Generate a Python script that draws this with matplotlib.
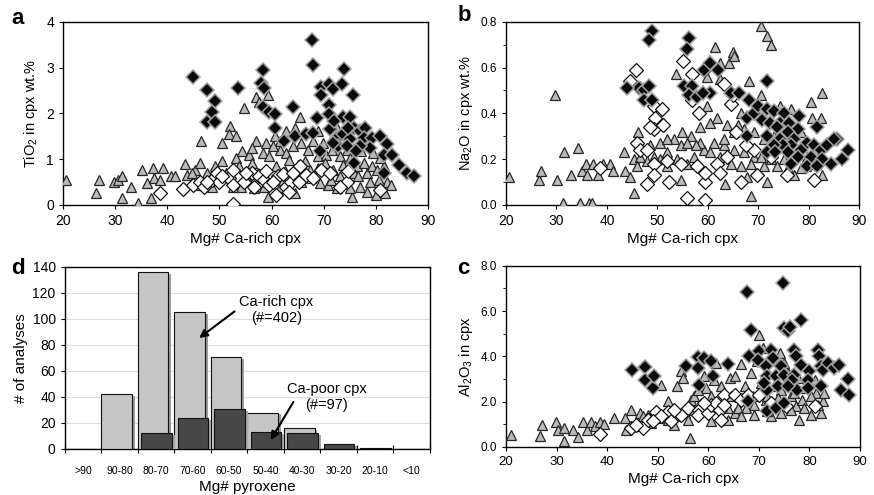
import matplotlib
matplotlib.use("Agg")
import matplotlib.pyplot as plt
import numpy as np

plt.rcParams['font.family'] = ['Liberation Sans', 'DejaVu Sans']
plt.rcParams['mathtext.fontset'] = 'custom'
plt.rcParams['mathtext.rm'] = 'Liberation Sans'
plt.rcParams['mathtext.it'] = 'Liberation Sans'

# ---------------- Panel a: TiO2 ----------------
a_tri_x = [20.5, 26.3, 27.0, 29.7, 30.5, 31.3, 31.3, 33.0, 34.4, 35.2, 36.1, 36.9, 37.2, 37.4, 38.6, 39.2, 40.8, 41.5,
           43.4, 43.7, 45.4, 46.3, 46.5, 50.5, 50.5, 52.0, 51.8, 53.1, 54.7, 57.0, 57.6, 59.2, 57.0, 58.9, 62.8, 64.4,
           65.4, 60.6, 54.4, 55.7, 53.1, 49.2, 47.6, 44.7, 53.7, 56.3, 58.3, 59.5, 61.5, 62.8, 64.1, 65.7, 67.0, 67.9,
           68.9, 69.9, 70.5, 71.5, 73.1, 74.4, 75.0, 76.3, 77.6, 78.3, 79.2, 80.2, 81.5, 82.1, 82.8, 81.8, 79.9, 78.3,
           77.0, 75.3, 75.0, 72.5, 70.8, 69.2, 67.6, 65.7, 64.4, 62.8, 61.5, 59.2, 58.6, 56.7, 54.1, 55.4, 57.3, 60.8,
           62.5, 63.4, 65.0, 66.3, 67.3, 68.9, 70.2, 71.8, 73.7, 75.7, 76.6, 78.9, 80.5, 73.1, 71.3, 65.4, 62.1, 56.3,
           61.5, 60.2, 48.6, 46.0, 52.5, 51.2, 68.9, 72.4, 77.2, 79.5, 80.8]
a_tri_y = [0.55, 0.26, 0.55, 0.49, 0.55, 0.64, 0.15, 0.40, 0.05, 0.76, 0.48, 0.15, 0.81, 0.59, 0.55, 0.81, 0.64, 0.63,
           0.90, 0.66, 0.77, 0.92, 1.40, 1.35, 0.96, 1.73, 1.54, 1.51, 2.11, 2.35, 2.24, 2.39, 1.40, 1.36, 1.62, 1.69,
           1.91, 1.51, 1.18, 1.10, 1.03, 0.85, 0.70, 0.70, 0.85, 0.92, 1.14, 1.07, 1.21, 1.14, 1.29, 1.36, 1.21, 1.40,
           1.07, 1.36, 1.10, 1.21, 1.07, 1.21, 1.03, 0.85, 0.92, 0.70, 0.85, 0.77, 0.85, 0.51, 0.44, 0.26, 0.22, 0.29,
           0.40, 0.18, 0.37, 0.37, 0.44, 0.48, 0.59, 0.51, 0.26, 0.37, 0.40, 0.18, 0.40, 0.37, 0.40, 0.55, 0.70, 0.85,
           0.74, 0.99, 0.88, 0.96, 0.77, 0.81, 0.92, 0.77, 0.88, 0.70, 0.63, 0.51, 0.55, 0.63, 0.55, 0.63, 0.55, 1.25,
           1.40, 1.29, 0.40, 0.44, 0.40, 0.70, 1.62, 1.73, 1.18, 1.14, 1.03]
a_blk_x = [44.9, 47.6, 49.2, 48.5, 47.6, 49.2, 53.6, 58.3, 58.0, 58.6, 58.3, 59.5, 60.7, 60.7, 62.3, 64.1, 64.4, 66.5,
           67.8, 67.9, 68.6, 67.9, 69.4, 69.4, 71.0, 71.8, 71.0, 71.0, 71.2, 73.4, 73.9, 75.5, 73.7, 75.0, 72.0, 72.6,
           73.7, 75.0, 75.7, 76.9, 77.9, 77.6, 79.2, 80.7, 78.9, 76.9, 82.1, 81.5, 83.1, 84.4, 86.0, 87.3, 81.5, 75.7,
           72.8, 74.4, 76.1, 69.2, 71.8, 74.7]
a_blk_y = [2.79, 2.52, 2.28, 2.04, 1.82, 1.82, 2.55, 2.95, 2.67, 2.55, 2.13, 2.02, 1.98, 1.67, 1.40, 2.13, 1.51, 1.54,
           3.60, 3.05, 1.89, 1.57, 2.57, 2.39, 2.65, 2.54, 2.18, 1.99, 1.65, 2.65, 2.96, 2.40, 1.91, 1.91, 1.84, 1.47,
           1.54, 1.43, 1.69, 1.62, 1.69, 1.47, 1.47, 1.51, 1.25, 1.29, 1.32, 1.08, 1.08, 0.88, 0.70, 0.64, 0.70, 0.92,
           1.29, 1.29, 1.18, 1.18, 1.36, 1.69]
a_wht_x = [38.6, 43.1, 44.9, 46.3, 47.1, 48.6, 49.5, 49.9, 51.8, 52.5, 52.6, 54.7, 56.3, 57.6, 58.6, 59.5, 60.8, 61.2,
           62.1, 62.8, 63.7, 65.2, 63.4, 66.6, 67.9, 69.5, 71.1, 74.4, 74.7, 80.7, 73.1, 52.5, 55.1, 56.7, 58.9, 60.2,
           64.0, 47.6, 50.5, 65.4]
a_wht_y = [0.27, 0.35, 0.44, 0.51, 0.40, 0.55, 0.70, 0.49, 0.59, 0.44, 0.02, 0.51, 0.70, 0.63, 0.55, 0.44, 0.22, 0.63,
           0.68, 0.40, 0.51, 0.49, 0.29, 0.66, 0.59, 0.77, 0.70, 0.51, 0.74, 0.33, 0.40, 0.77, 0.70, 0.40, 0.74, 0.51,
           0.70, 0.51, 0.63, 0.85]

# ---------------- Panel b: Na2O ----------------
b_tri_x = [20.6, 26.6, 26.9, 29.7, 30.2, 31.3, 31.4, 32.8, 34.2, 34.7, 35.0, 35.9, 36.0, 36.4, 37.0, 37.2, 38.2, 39.3,
           40.7, 41.3, 43.3, 43.6, 44.6, 45.3, 46.1, 46.6, 48.0, 45.3, 50.6, 51.9, 53.6, 53.2, 54.6, 54.9, 54.6, 56.6,
           58.5, 60.5, 59.9, 59.9, 61.5, 62.5, 62.5, 64.2, 64.9, 65.2, 61.9, 63.9, 65.9, 66.6, 68.2, 70.5, 70.5, 71.7,
           72.5, 71.8, 68.5, 63.5, 74.1, 74.4, 76.4, 80.4, 82.7, 82.4, 80.7, 82.7, 77.1, 79.4, 75.8, 73.8, 71.2, 69.1,
           67.2, 65.2, 63.2, 61.2, 59.2, 57.2, 55.9, 53.9, 51.9, 50.6, 49.3, 46.6, 46.0, 58.5, 60.5, 62.5, 64.5, 66.5,
           68.5, 70.5, 72.5, 75.1, 77.7, 79.7, 81.4, 81.1, 73.1, 75.8, 78.4, 71.2, 69.1, 67.2, 65.2, 63.2, 55.9, 57.6,
           51.9, 48.6, 78.4, 67.8]
b_tri_y = [0.12, 0.11, 0.15, 0.48, 0.11, 0.01, 0.23, 0.13, 0.25, 0.01, 0.15, 0.18, 0.13, 0.01, 0.01, 0.18, 0.13, 0.18,
           0.18, 0.15, 0.23, 0.15, 0.12, 0.05, 0.32, 0.52, 0.19, 0.20, 0.27, 0.23, 0.57, 0.29, 0.26, 0.32, 0.11, 0.30,
           0.34, 0.36, 0.43, 0.56, 0.69, 0.55, 0.62, 0.62, 0.67, 0.65, 0.38, 0.35, 0.35, 0.40, 0.54, 0.48, 0.78, 0.74,
           0.70, 0.10, 0.04, 0.09, 0.34, 0.43, 0.42, 0.45, 0.49, 0.38, 0.38, 0.13, 0.13, 0.17, 0.16, 0.17, 0.17, 0.21,
           0.23, 0.24, 0.26, 0.27, 0.24, 0.21, 0.18, 0.20, 0.17, 0.20, 0.21, 0.21, 0.17, 0.27, 0.23, 0.21, 0.18, 0.17,
           0.18, 0.21, 0.20, 0.20, 0.23, 0.21, 0.18, 0.23, 0.30, 0.29, 0.32, 0.29, 0.32, 0.33, 0.32, 0.29, 0.27, 0.26,
           0.29, 0.26, 0.16, 0.12]
b_blk_x = [48.9, 48.3, 56.2, 55.9, 46.3, 47.3, 48.3, 47.3, 48.9, 44.0, 55.2, 56.9, 56.2, 57.9, 59.2, 60.5, 62.0, 60.5,
           59.1, 64.5, 66.2, 68.1, 71.8, 67.8, 69.1, 69.9, 71.8, 73.1, 75.1, 78.1, 70.8, 72.4, 74.4, 76.1, 73.7, 77.8,
           81.7, 75.8, 71.8, 67.8, 74.4, 77.0, 79.7, 78.4, 81.0, 76.4, 75.0, 73.1, 71.8, 75.8, 77.8, 80.5, 82.4, 83.7,
           85.7, 85.0, 87.7, 86.7, 84.4, 82.7, 79.7, 76.4, 81.7, 73.4]
b_blk_y = [0.76, 0.72, 0.73, 0.68, 0.51, 0.50, 0.52, 0.46, 0.46, 0.51, 0.52, 0.52, 0.48, 0.47, 0.59, 0.62, 0.59, 0.49,
           0.49, 0.49, 0.49, 0.46, 0.54, 0.38, 0.40, 0.43, 0.42, 0.41, 0.40, 0.39, 0.37, 0.36, 0.36, 0.36, 0.34, 0.33,
           0.34, 0.32, 0.30, 0.30, 0.29, 0.29, 0.27, 0.24, 0.26, 0.26, 0.26, 0.26, 0.23, 0.23, 0.21, 0.21, 0.24, 0.26,
           0.29, 0.29, 0.24, 0.20, 0.18, 0.20, 0.17, 0.18, 0.17, 0.23]
b_wht_x = [45.8, 44.6, 55.1, 56.9, 59.2, 56.9, 58.2, 49.3, 50.9, 49.6, 49.3, 48.6, 51.1, 46.0, 46.6, 48.0, 49.3, 49.3,
           48.0, 52.3, 55.9, 59.5, 59.5, 59.5, 57.9, 54.6, 51.9, 61.9, 62.5, 63.8, 63.2, 64.5, 64.9, 66.5, 69.8, 75.6,
           81.1, 72.5, 69.1, 38.7, 65.5, 67.5]
b_wht_y = [0.59, 0.54, 0.63, 0.57, 0.59, 0.46, 0.40, 0.43, 0.42, 0.38, 0.33, 0.34, 0.35, 0.27, 0.24, 0.24, 0.18, 0.13,
           0.09, 0.10, 0.03, 0.02, 0.10, 0.14, 0.17, 0.18, 0.19, 0.18, 0.14, 0.21, 0.53, 0.44, 0.48, 0.10, 0.13, 0.13,
           0.11, 0.21, 0.24, 0.16, 0.32, 0.26]

# ---------------- Panel c: Al2O3 ----------------
c_tri_x = [21.0, 26.8, 27.1, 29.9, 30.3, 31.5, 31.5, 33.2, 34.3, 35.2, 36.0, 36.8, 37.5, 38.5, 39.4, 41.4, 43.5, 43.7,
           44.7, 46.4, 48.0, 50.7, 52.0, 53.3, 53.9, 54.5, 54.9, 56.3, 56.5, 57.2, 59.2, 59.6, 60.5, 61.5, 62.5, 64.2,
           64.5, 65.2, 66.5, 68.5, 69.6, 70.1, 70.8, 71.7, 72.4, 74.1, 75.0, 74.4, 78.0, 77.3, 80.3, 81.3, 82.3, 82.6,
           82.9, 80.3, 78.6, 76.4, 73.7, 71.4, 69.1, 67.5, 65.8, 63.8, 61.9, 60.5, 58.6, 57.2, 55.3, 53.3, 52.0, 50.0,
           48.7, 47.0, 45.4, 55.9, 63.8, 66.5, 69.1, 71.7, 74.4, 76.4, 79.0, 75.7, 73.0, 70.4, 79.0, 81.0, 71.7, 81.6,
           77.0, 67.2, 68.8, 61.2, 57.9, 77.7, 73.0, 65.2]
c_tri_y = [0.54, 0.47, 0.99, 1.09, 0.76, 0.25, 0.84, 0.74, 0.44, 1.09, 0.76, 1.09, 0.91, 1.09, 1.03, 1.28, 1.28, 0.76,
           1.65, 1.50, 1.43, 2.75, 2.01, 0.99, 2.68, 3.34, 3.04, 0.40, 2.09, 2.24, 3.12, 2.60, 1.13, 3.71, 2.68, 3.04,
           2.24, 1.50, 3.68, 3.27, 3.78, 4.96, 4.37, 3.34, 1.35, 4.15, 3.71, 2.53, 1.21, 1.79, 1.43, 2.38, 1.50, 2.01,
           2.38, 2.24, 2.09, 2.24, 2.16, 2.09, 1.87, 1.72, 1.72, 1.72, 1.94, 2.24, 1.94, 1.65, 1.50, 1.35, 1.21, 1.28,
           1.06, 1.35, 0.91, 1.21, 1.21, 1.35, 1.43, 1.57, 1.50, 1.65, 1.72, 3.27, 2.68, 2.82, 2.60, 2.97, 2.24, 1.87,
           2.38, 2.68, 2.24, 2.97, 2.53, 3.04, 3.85, 3.12]
c_blk_x = [45.0, 47.4, 47.5, 49.0, 49.3, 55.6, 57.9, 57.9, 58.2, 59.2, 60.5, 60.9, 63.8, 67.7, 68.5, 68.0, 67.8, 70.1,
           69.8, 71.4, 71.7, 71.7, 71.7, 72.4, 72.7, 73.4, 73.7, 73.4, 74.7, 74.9, 75.7, 76.2, 74.4, 74.9, 75.0, 77.0,
           77.3, 77.0, 77.5, 78.3, 78.3, 80.0, 79.7, 81.6, 81.9, 82.3, 82.3, 82.6, 83.6, 84.9, 85.9, 86.2, 87.6, 87.9,
           79.7, 76.5, 71.1, 75.7]
c_blk_y = [3.38, 3.51, 2.97, 2.60, 3.12, 3.56, 3.97, 3.49, 2.72, 3.93, 3.78, 3.15, 3.66, 6.84, 5.15, 4.03, 2.01, 4.22,
           3.82, 3.56, 3.12, 2.53, 1.57, 4.29, 3.93, 3.12, 2.68, 1.72, 7.24, 5.25, 5.10, 5.29, 3.59, 3.19, 1.94, 4.29,
           4.00, 3.19, 2.53, 5.62, 3.63, 3.34, 2.97, 4.29, 4.00, 3.56, 2.68, 3.41, 3.71, 3.49, 3.63, 2.53, 3.00, 2.31,
           2.60, 2.97, 2.82, 2.68]
c_wht_x = [38.5, 44.7, 47.0, 48.0, 49.7, 52.0, 52.6, 54.6, 55.9, 58.2, 57.9, 60.0, 60.5, 61.5, 62.4, 62.5, 63.2, 65.2,
           63.2, 66.5, 67.8, 70.1, 72.4, 75.4, 81.0, 53.3, 50.7, 45.7, 49.0, 59.2]
c_wht_y = [0.59, 0.84, 0.84, 1.21, 1.54, 1.54, 1.13, 1.43, 1.72, 1.65, 1.43, 1.50, 1.87, 1.94, 1.65, 1.21, 2.31, 2.31,
           1.87, 2.09, 2.31, 2.31, 1.94, 1.79, 1.79, 1.65, 1.35, 0.99, 1.13, 1.94]

# ---------------- Panel d: histogram ----------------
d_categories = ['>90', '90-80', '80-70', '70-60', '60-50', '50-40', '40-30', '30-20', '20-10', '<10']
d_ca_rich = [0, 42, 136, 105, 71, 28, 16, 0, 0, 0]
d_ca_poor = [0, 0, 12, 24, 31, 13, 12, 4, 1, 0]

TRI = dict(marker='^', linestyle='none', markersize=7.6, markerfacecolor='#bababa',
           markeredgecolor='#262626', markeredgewidth=0.9)
BLK = dict(marker='D', linestyle='none', markersize=7.4, markerfacecolor='#0a0a0a',
           markeredgecolor='#a0a0a0', markeredgewidth=1.1)
WHT = dict(marker='D', linestyle='none', markersize=7.2, markerfacecolor='white',
           markeredgecolor='#111111', markeredgewidth=0.9)

fig = plt.figure(figsize=(8.74, 4.95), dpi=100)

ax_a = fig.add_axes([0.072, 0.586, 0.418, 0.370])
ax_b = fig.add_axes([0.579, 0.586, 0.404, 0.370])
ax_d = fig.add_axes([0.074, 0.093, 0.418, 0.368])
ax_c = fig.add_axes([0.579, 0.097, 0.405, 0.366])


def scatter_panel(ax, tx, ty, wx, wy, bx, by):
    ax.plot(tx, ty, zorder=3, **TRI)
    ax.plot(wx, wy, zorder=4, **WHT)
    ax.plot(bx, by, zorder=5, **BLK)
    ax.set_xlim(20, 90)
    ax.set_xticks(range(20, 91, 10))
    for s in ax.spines.values():
        s.set_linewidth(1.0)
    ax.tick_params(direction='out', length=3, width=0.8)
    ax.tick_params(which='minor', direction='out', length=2, width=0.6)


scatter_panel(ax_a, a_tri_x, a_tri_y, a_wht_x, a_wht_y, a_blk_x, a_blk_y)
ax_a.set_ylim(0, 4)
ax_a.set_yticks([0, 1, 2, 3, 4])
ax_a.tick_params(labelsize=10)
ax_a.set_ylabel('TiO$_2$ in cpx wt.%', fontsize=10.5, labelpad=4)
ax_a.set_xlabel('Mg# Ca-rich cpx', fontsize=11, labelpad=3)

scatter_panel(ax_b, b_tri_x, b_tri_y, b_wht_x, b_wht_y, b_blk_x, b_blk_y)
ax_b.set_ylim(0, 0.8)
ax_b.set_yticks(np.arange(0, 0.81, 0.2))
ax_b.set_yticks(np.arange(0.1, 0.8, 0.2), minor=True)
ax_b.set_yticklabels(['0.0', '0.2', '0.4', '0.6', '0.8'])
ax_b.tick_params(axis='y', labelsize=8.5)
ax_b.tick_params(axis='x', labelsize=10)
ax_b.set_ylabel('Na$_2$O in cpx wt.%', fontsize=10.5, labelpad=4)
ax_b.set_xlabel('Mg# Ca-rich cpx', fontsize=11, labelpad=3)

scatter_panel(ax_c, c_tri_x, c_tri_y, c_wht_x, c_wht_y, c_blk_x, c_blk_y)
ax_c.set_ylim(0, 8)
ax_c.set_yticks([0, 2, 4, 6, 8])
ax_c.set_yticks([1, 3, 5, 7], minor=True)
ax_c.set_yticklabels(['0.0', '2.0', '4.0', '6.0', '8.0'])
ax_c.tick_params(axis='y', labelsize=8.5)
ax_c.tick_params(axis='x', labelsize=9.5)
ax_c.set_ylabel('Al$_2$O$_3$ in cpx', fontsize=10.5, labelpad=4)
ax_c.set_xlabel('Mg# Ca-rich cpx', fontsize=11, labelpad=3)

# histogram
idx = np.arange(len(d_categories))
w = 0.84
ax_d.bar(idx + 0.08, np.maximum(np.array(d_ca_rich) - 1.5, 0), width=w, align='edge',
         color='#9c9c9c', linewidth=0, zorder=2)
ax_d.bar(idx, d_ca_rich, width=w, align='edge', color='#c6c6c6', edgecolor='#111111',
         linewidth=0.8, zorder=3)
ax_d.bar(idx + 0.17, np.maximum(np.array(d_ca_poor) - 1.5, 0), width=w, align='edge',
         color='#a8a8a8', linewidth=0, zorder=4)
ax_d.bar(idx + 0.09, d_ca_poor, width=w, align='edge', color='#474747', edgecolor='#111111',
         linewidth=0.8, zorder=5)
ax_d.set_xlim(0, 10)
ax_d.set_ylim(0, 140)
ax_d.set_yticks(range(0, 141, 20))
ax_d.yaxis.grid(True, color='#dddddd', linewidth=0.8, zorder=0)
ax_d.set_axisbelow(True)
ax_d.set_xticks(idx + 0.5)
ax_d.set_xticklabels(d_categories, fontsize=7.5)
ax_d.set_xticks(range(0, 11), minor=True)
ax_d.tick_params(axis='x', which='major', length=0, pad=12)
ax_d.tick_params(axis='x', which='minor', direction='inout', length=6, width=0.8)
ax_d.tick_params(axis='y', labelsize=10, direction='out', length=3)
for s in ax_d.spines.values():
    s.set_linewidth(1.0)
ax_d.set_ylabel('# of analyses', fontsize=11, labelpad=3)
ax_d.set_xlabel('Mg# pyroxene', fontsize=11, labelpad=3)

ax_d.annotate('', xy=(3.62, 84), xytext=(4.71, 107),
              arrowprops=dict(arrowstyle='-|>', color='black', lw=1.5, mutation_scale=12), zorder=6)
ax_d.text(5.8, 107, 'Ca-rich cpx\n(#=402)', fontsize=10.5, ha='center', va='center',
          linespacing=1.15, zorder=6)
ax_d.annotate('', xy=(5.6, 5), xytext=(6.3, 38),
              arrowprops=dict(arrowstyle='-|>', color='black', lw=1.5, mutation_scale=12), zorder=6)
ax_d.text(7.17, 40, 'Ca-poor cpx\n(#=97)', fontsize=10.5, ha='center', va='center',
          linespacing=1.15, zorder=6)

# panel letters
fig.text(0.013, 0.962, 'a', fontsize=16, fontweight='bold', va='center')
fig.text(0.523, 0.968, 'b', fontsize=16, fontweight='bold', va='center')
fig.text(0.013, 0.458, 'd', fontsize=16, fontweight='bold', va='center')
fig.text(0.523, 0.458, 'c', fontsize=16, fontweight='bold', va='center')

fig.savefig('out.png', dpi=100)
